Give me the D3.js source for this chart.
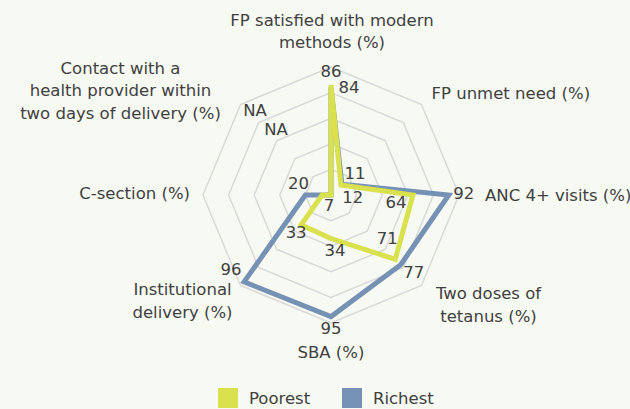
<!DOCTYPE html>
<html>
<head>
<meta charset="utf-8">
<script src="https://cdn.jsdelivr.net/npm/d3@7"></script>
<style>
  body { margin: 0; background: #f7f9f3; }
  svg { display: block; font-family: "DejaVu Sans", sans-serif; }
</style>
</head>
<body>
<svg id="chart" width="630" height="409"></svg>
<script>
// axes, clockwise from the top
const axisNames = [
  ["FP satisfied with modern", "methods (%)"],
  ["FP unmet need (%)"],
  ["ANC 4+ visits (%)"],
  ["Two doses of", "tetanus (%)"],
  ["SBA (%)"],
  ["Institutional", "delivery (%)"],
  ["C-section (%)"],
  ["Contact with a", "health provider within", "two days of delivery (%)"]
];
const seriesNames = ["Poorest", "Richest"];
const poorest = [86, 11, 64, 71, 34, 33, 7, null];
const richest = [84, 12, 92, 77, 95, 96, 20, null];
const gridLevels = [20, 40, 60, 80, 100];

const colors = { Poorest: "#d9e14f", Richest: "#7592b4" };
const textColor = "#404040";
const fs = 16.5;
const cx = 331, cy = 195, R = 128;

const svg = d3.select("#chart");
svg.append("rect").attr("width", 630).attr("height", 409).attr("fill", "#f7f9f3");

let r = d3.scaleLinear().domain([0, 100]).range([0, R]);
let angle = d3.scalePoint().domain(d3.range(axisNames.length)).range([0, 2 * Math.PI * 7 / 8]);

function pt(i, v) {
  let a = angle(i);
  return [cx + r(v) * Math.sin(a), cy - r(v) * Math.cos(a)];
}

let g = svg.append("g").attr("transform", `translate(${cx},${cy})`);

let radial = d3.lineRadial()
  .angle((d, i) => angle(i))
  .radius(d => r(d == null ? 0 : d))
  .curve(d3.curveLinearClosed);

// grid octagons
gridLevels.forEach(lv => {
  g.append("path")
    .attr("d", radial(axisNames.map(() => lv)))
    .attr("fill", "none")
    .attr("stroke", "#d9d9d9")
    .attr("stroke-width", 1.5);
});

// series
[["Richest", richest], ["Poorest", poorest]].forEach(([name, vals]) => {
  g.append("path")
    .attr("d", radial(vals))
    .attr("fill", "none")
    .attr("stroke", colors[name])
    .attr("stroke-width", 5)
    .attr("stroke-linejoin", "miter");
});

// data labels: offsets from the point
const poorOff = [[0, -13], [14, -12], [-17, 7], [-8, -21], [4, 12], [-5, 8], [7, 10], [-55, -66]];
const richOff = [[18, 0], [11, 13], [15, -2], [13, 8], [0, 12], [-13, -12], [-7, -12], [-76, -85]];

function dataLabels(vals, offs) {
  vals.forEach((v, i) => {
    let p = pt(i, v == null ? 0 : v);
    svg.append("text")
      .attr("x", p[0] + offs[i][0])
      .attr("y", p[1] + offs[i][1])
      .attr("text-anchor", "middle")
      .attr("dominant-baseline", "central")
      .attr("font-size", fs)
      .attr("fill", textColor)
      .text(v == null ? "NA" : v);
  });
}
dataLabels(poorest, poorOff);
dataLabels(richest, richOff);

// axis labels: anchor and offset from the outer vertex
const labelPlace = [
  ["middle", 1, -47],
  ["start", 10, -11],
  ["start", 26, 0],
  ["middle", 67, 8],
  ["middle", 0, 29],
  ["middle", -58, 4],
  ["end", -13, -2],
  ["middle", -120, -36]
];
axisNames.forEach((lines, i) => {
  let p = pt(i, 100);
  let [anchor, dx, dy] = labelPlace[i];
  let t = svg.append("text")
    .attr("text-anchor", anchor)
    .attr("font-size", fs)
    .attr("fill", textColor);
  lines.forEach((ln, j) => {
    t.append("tspan")
      .attr("x", p[0] + dx)
      .attr("y", p[1] + dy + j * 22.5)
      .attr("dominant-baseline", "central")
      .text(ln);
  });
});

// legend
let leg = svg.append("g").attr("transform", "translate(218,388)");
seriesNames.forEach((name, i) => {
  let x = i * 124;
  leg.append("rect").attr("x", x).attr("y", 0).attr("width", 20).attr("height", 20).attr("fill", colors[name]);
  leg.append("text").attr("x", x + 31).attr("y", 10)
    .attr("dominant-baseline", "central")
    .attr("font-size", fs).attr("fill", textColor).text(name);
});
</script>
</body>
</html>
